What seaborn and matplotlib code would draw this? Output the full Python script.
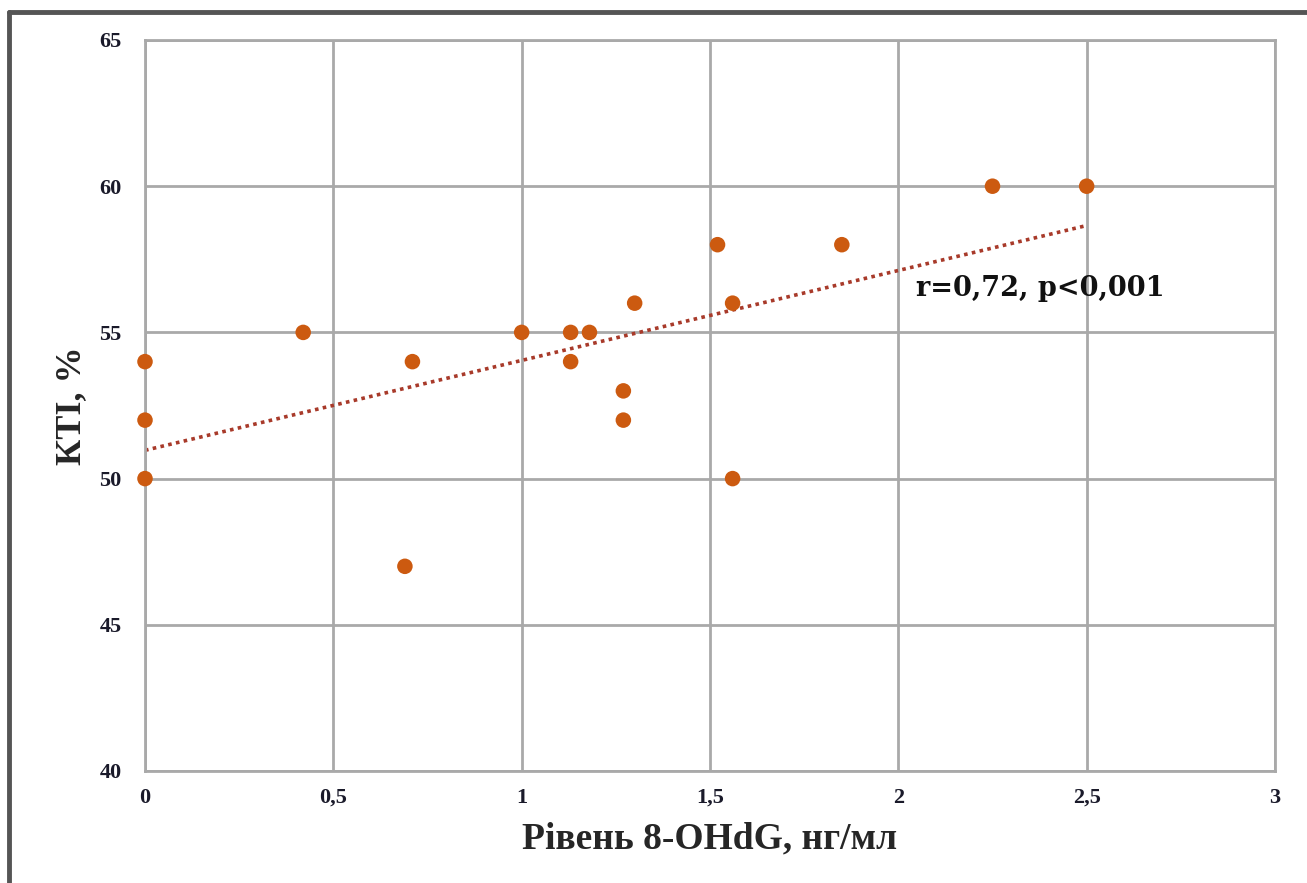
import numpy as np
import pandas as pd
import matplotlib
matplotlib.use("Agg")
import matplotlib.pyplot as plt
import seaborn as sns

# 8-OHdG level (ng/ml) and cardiothoracic index (%) per patient
ohdg = [0.0, 0.0, 0.0, 0.42, 0.71, 0.69, 1.0, 1.13, 1.18, 1.13,
        1.30, 1.27, 1.27, 1.52, 1.56, 1.56, 1.85, 2.25, 2.5]
kti = [54, 52, 50, 55, 54, 47, 55, 55, 55, 54,
       56, 53, 52, 58, 56, 50, 58, 60, 60]

x_ticks = [0, 0.5, 1, 1.5, 2, 2.5, 3]
x_tick_labels = ["0", "0,5", "1", "1,5", "2", "2,5", "3"]
y_ticks = [40, 45, 50, 55, 60, 65]
y_tick_labels = ["40", "45", "50", "55", "60", "65"]

annotation = "r=0,72, p<0,001"

df = pd.DataFrame({"ohdg": ohdg, "kti": kti})

sns.set_theme(style="white")
plt.rcParams["font.family"] = ["Liberation Serif", "DejaVu Serif"]

fig = plt.figure(figsize=(13.07, 8.83), dpi=100)
ax = fig.add_axes([145 / 1307, 1 - 771 / 883, (1275 - 145) / 1307, (771 - 40) / 883])

grid_color = "#A9A9A9"
ax.set_xlim(0, 3)
ax.set_ylim(40, 65)
ax.set_xticks(x_ticks)
ax.set_yticks(y_ticks)
ax.grid(True, color=grid_color, linewidth=2)
ax.set_axisbelow(True)
for side in ax.spines.values():
    side.set_color(grid_color)
    side.set_linewidth(2)

# linear trend line
sns.regplot(data=df, x="ohdg", y="kti", ax=ax, scatter=False, ci=None,
            line_kws=dict(color="#A83A2A", linestyle=(0, (1, 1.2)), linewidth=2.6))

sns.scatterplot(data=df, x="ohdg", y="kti", ax=ax, color="#CC5A10",
                s=125, edgecolor="none", zorder=5, clip_on=False)

ax.set_xticklabels(x_tick_labels, fontsize=16, fontweight="bold", color="#1a1a2a")
ax.set_yticklabels(y_tick_labels, fontsize=16, fontweight="bold", color="#1a1a2a")
ax.tick_params(axis="x", pad=12, length=0)
ax.tick_params(axis="y", pad=17, length=0)

ax.set_xlabel("Рівень 8-OHdG, нг/мл", fontsize=27, fontweight="bold", labelpad=10)
ax.set_ylabel("КТІ, %", fontsize=26, fontweight="bold", labelpad=8)

ax.text(2.047, 56.5, annotation, fontsize=19.5, fontweight="bold",
        family="DejaVu Serif", color="#111111", ha="left", va="center")

# outer frame on the left and top of the figure
fig.add_artist(plt.Line2D([9 / 1307, 9 / 1307], [0, 1 - 12 / 883],
                          transform=fig.transFigure, color="#555555", linewidth=3.5))
fig.add_artist(plt.Line2D([9 / 1307, 1], [1 - 12 / 883, 1 - 12 / 883],
                          transform=fig.transFigure, color="#555555", linewidth=3.5))

fig.savefig("out.png", dpi=100, facecolor="white")
